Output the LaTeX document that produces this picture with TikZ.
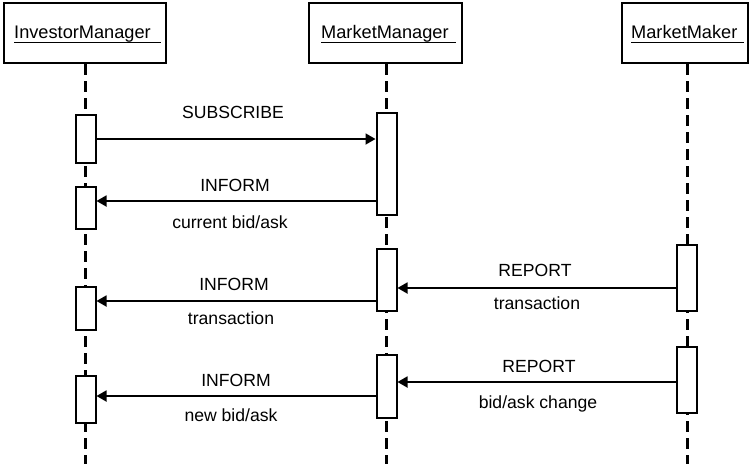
\documentclass[tikz,border=0pt]{standalone}
\usepackage{fontspec}
\setmainfont{Liberation Sans}
\usetikzlibrary{arrows.meta,calc}
\begin{document}
\begin{tikzpicture}[x=1pt,y=-1pt,
  font=\fontsize{17.6}{20}\selectfont,
  header/.style={draw,line width=2pt,inner sep=0pt},
  htext/.style={inner sep=0pt,anchor=base west,font=\fontsize{18.2}{21}\selectfont},
  life/.style={line width=3pt,dash pattern=on 11pt off 6pt},
  act/.style={draw,line width=2pt,fill=white,minimum width=20pt,inner sep=0pt},
  msg/.style={line width=1.8pt,-{Triangle[length=10pt,width=11pt]}},
  lbl/.style={inner sep=0pt,anchor=base}]
\useasboundingbox (0,0) rectangle (753,464);

% object headers
\node[header,minimum width=162pt,minimum height=60pt] (im) at (85,33) {};
\node[header,minimum width=153pt,minimum height=60pt] (mm) at (385.5,33) {};
\node[header,minimum width=126pt,minimum height=60pt] (mk) at (685,33) {};
\node[htext] (imt) at (14,38) {InvestorManager};
\node[htext] (mmt) at (321,38) {MarketManager};
\node[htext] (mkt) at (631,38) {MarketMaker};
% underlines run a little past the names
\draw[line width=1.3pt] ([yshift=-4.5pt]imt.base west) -- ([yshift=-4.5pt,xshift=10pt]imt.base east);
\draw[line width=1.3pt] ([yshift=-4.5pt]mmt.base west) -- ([yshift=-4.5pt,xshift=7pt]mmt.base east);
\draw[line width=1.3pt] ([yshift=-4.5pt]mkt.base west) -- ([yshift=-4.5pt,xshift=6pt]mkt.base east);

% lifelines
\coordinate (imEnd) at (85,464);
\coordinate (mmEnd) at (386,464);
\coordinate (mkEnd) at (687,464);
\draw[life] (im.south) -- (imEnd);
\draw[life] (mm.south -| mmEnd) -- (mmEnd);
\draw[life] (mk.south -| mkEnd) -- (mkEnd);

% activation bars
\node[act,minimum height=48pt] (im1) at (85.5,139) {};
\node[act,minimum height=42pt] (im2) at (85.5,208) {};
\node[act,minimum height=43pt] (im3) at (85.5,308.5) {};
\node[act,minimum height=47pt] (im4) at (85.5,399.5) {};
\node[act,minimum height=102pt] (mm1) at (386.5,164) {};
\node[act,minimum height=62pt] (mm2) at (386.5,280) {};
\node[act,minimum height=63pt] (mm3) at (386.5,386.5) {};
\node[act,minimum height=66pt] (mk1) at (686.5,278) {};
\node[act,minimum height=66pt] (mk2) at (686.5,380) {};

% messages
\draw[msg] (im1.east) -- (im1.east -| mm1.west);
\draw[msg] ($(mm1.west |- im2.east)+(0,-7)$) -- ($(im2.east)+(0,-7)$);
\draw[msg] ($(mk1.west)+(0,10)$) -- ($(mk1.west -| mm2.east)+(0,10)$);
\draw[msg] ($(mm2.west |- im3.east)+(0,-7.5)$) -- ($(im3.east)+(0,-7.5)$);
\draw[msg] ($(mk2.west)+(0,2)$) -- ($(mk2.west -| mm3.east)+(0,2)$);
\draw[msg] ($(mm3.west |- im4.east)+(0,-3.5)$) -- ($(im4.east)+(0,-3.5)$);

% message labels
\node[lbl] (l1) at (233,118) {SUBSCRIBE};
\node[lbl] (l2) at (235,191) {INFORM};
\node[lbl] (l3) at (230,228) {current bid/ask};
\node[lbl] (l4) at (535,276) {REPORT};
\node[lbl] (l5) at (537,309) {transaction};
\node[lbl] (l6) at (234,290) {INFORM};
\node[lbl] (l7) at (231,324) {transaction};
\node[lbl] (l8) at (539,372) {REPORT};
\node[lbl] (l9) at (538,408) {bid/ask change};
\node[lbl] (l10) at (236,386) {INFORM};
\node[lbl] (l11) at (231,421) {new bid/ask};
\end{tikzpicture}
\end{document}
